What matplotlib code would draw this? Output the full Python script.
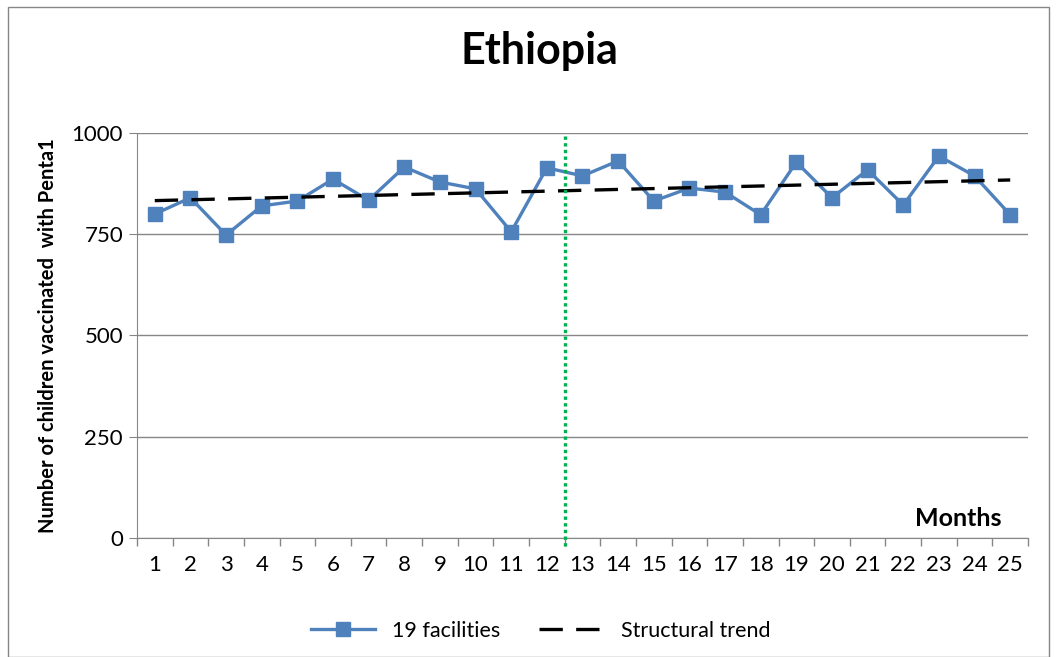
import matplotlib.pyplot as plt
from matplotlib.ticker import FixedLocator

plt.rcParams['font.family'] = ['Lato', 'DejaVu Sans']

# Months 1..25 and Penta1 counts for the 19 facilities
months = list(range(1, 26))
vaccinated = [800, 840, 748, 820, 832, 886, 834, 916, 879, 862, 756, 914, 894,
              931, 832, 864, 854, 798, 928, 840, 909, 822, 943, 894, 798]

# Structural trend line (first and last month)
trend_months = [1, 25]
trend_values = [833, 884]

# Intervention point between month 12 and 13
intervention = 12.5

fig = plt.figure(figsize=(10.56, 6.57), dpi=100)
ax = fig.add_axes([0.1297, 0.1811, 0.8438, 0.6165])

blue = '#4F81BD'
ax.plot(months, vaccinated, color=blue, lw=2.4, marker='s', ms=10.5,
        label='19 facilities', zorder=3)
ax.plot(trend_months, trend_values, color='black', lw=2.4, dashes=(7, 4),
        label='Structural trend', zorder=4)
ax.axvline(intervention, ymin=-0.02, ymax=1.0, color='#00B050', lw=2.4,
           ls=(0, (1, 1)), clip_on=False, zorder=5)

ax.set_xlim(0.5, 25.5)
ax.set_ylim(0, 1000)
ax.set_yticks([0, 250, 500, 750, 1000])
ax.set_xticks(months)
ax.xaxis.set_minor_locator(FixedLocator([m + 0.5 for m in range(0, 26)]))
ax.tick_params(axis='x', which='major', length=0, labelsize=16, pad=12)
ax.tick_params(axis='x', which='minor', length=6, color='#868686', width=1)
ax.tick_params(axis='y', length=6, color='#868686', labelsize=16, pad=4)

ax.grid(axis='y', color='#868686', lw=1)
ax.set_axisbelow(True)
for side in ['top', 'right']:
    ax.spines[side].set_visible(False)
for side in ['left', 'bottom']:
    ax.spines[side].set_color('#868686')

ax.set_ylabel('Number of children vaccinated  with Penta1', fontsize=14.5,
              fontweight='bold', labelpad=10)
ax.text(0.97, 0.02, 'Months', transform=ax.transAxes, ha='right', va='bottom',
        fontsize=18, fontweight='bold')
fig.text(0.511, 0.922, 'Ethiopia', ha='center', va='center', fontsize=31,
         fontweight='bold')

fig.legend(loc='center', bbox_to_anchor=(0.512, 0.04), ncol=2, frameon=False,
           fontsize=15.5, handlelength=3.0, columnspacing=1.8)

# outer chart border
fig.patches.append(plt.Rectangle((0.008, 0.0), 0.985, 0.99, transform=fig.transFigure,
                                 fill=False, edgecolor='#868686', lw=1))

fig.savefig('out.png', dpi=100)
